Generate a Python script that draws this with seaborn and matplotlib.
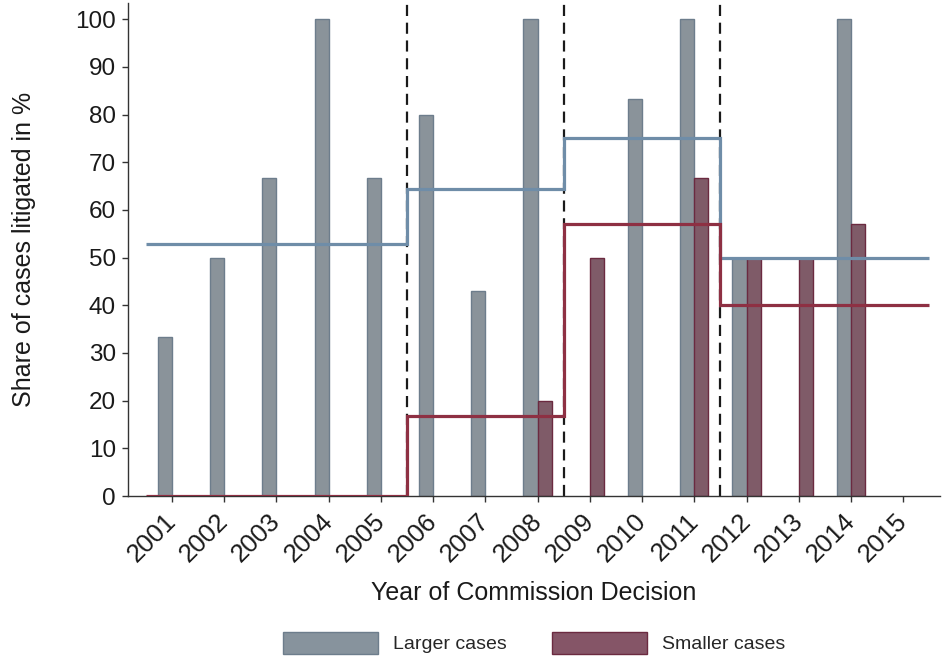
import numpy as np
import pandas as pd
import matplotlib
matplotlib.use('Agg')
import matplotlib.pyplot as plt
import matplotlib.transforms as mtransforms
import seaborn as sns
from matplotlib.patches import Patch

# data
years = list(range(2001, 2016))
larger = [33.3, 50.0, 66.7, 100.0, 66.7, 80.0, 42.9, 100.0, np.nan, 83.3, 100.0, 50.0, np.nan, 100.0, np.nan]
smaller = [np.nan, np.nan, np.nan, np.nan, np.nan, np.nan, np.nan, 20.0, 50.0, np.nan, 66.7, 50.0, 50.0, 57.1, np.nan]

# period averages (step lines)
period_edges = [2000.5, 2005.5, 2008.5, 2011.5, 2015.5]
larger_avg = [52.9, 64.3, 75.0, 50.0]
smaller_avg = [0.0, 16.7, 57.1, 40.0]
breaks = [2005.5, 2008.5, 2011.5]

groups = ['Larger cases', 'Smaller cases']
fill_colors = ['#87939d', '#855567']
edge_colors = ['#6d7d8c', '#6b2a40']
line_colors = ['#6f8da8', '#8e3043']


def main():
    sns.set_style('ticks')
    plt.rcParams['font.family'] = ['Liberation Sans', 'DejaVu Sans']

    df = pd.DataFrame({
        'year': years * 2,
        'share': larger + smaller,
        'group': [groups[0]] * len(years) + [groups[1]] * len(years),
    }).dropna()

    fig = plt.figure(figsize=(9.47, 6.61), dpi=100)
    ax = fig.add_axes([0.135, 0.2496, 0.858, 0.7458])

    sns.barplot(
        data=df, x='year', y='share', hue='group', hue_order=groups,
        native_scale=True, dodge=True, width=0.54, gap=0,
        palette=fill_colors, errorbar=None, legend=False, ax=ax, zorder=2
    )
    for cont, ec in zip(ax.containers, edge_colors):
        for bar in cont:
            bar.set_edgecolor(ec)
            bar.set_linewidth(1.0)

    # dashed period separators
    for b in breaks:
        ax.axvline(b, color='#1a1a1a', lw=1.6, ls=(0, (5, 3)), zorder=1)

    # period averages
    ax.stairs(larger_avg, period_edges, baseline=None, color=line_colors[0], lw=2.3, zorder=3)
    ax.stairs(smaller_avg, period_edges, baseline=None, color=line_colors[1], lw=2.3, zorder=3)

    ax.set_xlim(2000.157, 2015.71)
    ax.set_ylim(0, 103.4)
    ax.set_yticks(range(0, 101, 10))
    ax.set_xticks(years)
    ax.set_xticklabels([str(y) for y in years], rotation=45, ha='right',
                       rotation_mode='anchor')
    ax.tick_params(axis='both', direction='out', length=4.5, width=1.0,
                   color='#333333', labelsize=17.5, labelcolor='#1a1a1a', pad=4)
    ax.tick_params(axis='x', pad=5, labelsize=18.5)
    shift = mtransforms.ScaledTranslation(-8 / 100, 0, fig.dpi_scale_trans)
    for lab in ax.get_xticklabels():
        lab.set_transform(lab.get_transform() + shift)
    for s in ['left', 'bottom']:
        ax.spines[s].set_color('#333333')
        ax.spines[s].set_linewidth(1.0)
    sns.despine(ax=ax)

    ax.set_xlabel('Year of Commission Decision', fontsize=18, color='#1a1a1a', labelpad=10)
    ax.set_ylabel('Share of cases litigated in %', fontsize=18, color='#1a1a1a', labelpad=28)

    handles = [Patch(facecolor=f, edgecolor=e, lw=1.0) for f, e in zip(fill_colors, edge_colors)]
    ax.legend(handles, groups, loc='center', bbox_to_anchor=(0.5, -0.298), ncol=2,
              frameon=False, fontsize=14, handlelength=4.9, handleheight=1.34,
              handletextpad=0.77, columnspacing=2.3)

    fig.savefig('out.png', dpi=100)


if __name__ == '__main__':
    main()
